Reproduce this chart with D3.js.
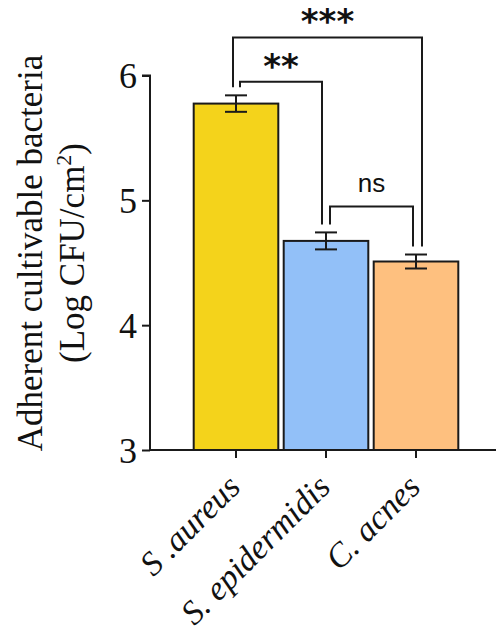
<!DOCTYPE html>
<html><head><meta charset="utf-8">
<script src="https://cdn.jsdelivr.net/npm/d3@7"></script>
<style>html,body{margin:0;padding:0;background:#fff}svg{display:block}</style>
</head><body>
<svg id="chart" width="496" height="635"></svg>
<script>
const categories = ["S .aureus", "S. epidermidis", "C. acnes"];
const means = [5.775, 4.675, 4.51];
const errors = [0.066, 0.068, 0.056];
const colors = ["#F4D31B", "#92C0F8", "#FEC07F"];
const yTicks = [3, 4, 5, 6];
const comparisons = [
  {a: 0, b: 1, label: "**", level: 5.95},
  {a: 0, b: 2, label: "***", level: 6.305},
  {a: 1, b: 2, label: "ns", level: 4.95}
];
// leg offsets (px) from bar centre for each comparison end
const legOffsets = [[4, -4], [-3, 6], [4, -3]];

const svg = d3.select("#chart");
const y = d3.scaleLinear().domain([3, 6]).range([450, 75.5]);
const x = d3.scaleBand().domain(categories).range([191, 461]).paddingInner(0.06).paddingOuter(0.03);
const axisX0 = 150;

// bars
svg.selectAll("rect.bar").data(categories).enter().append("rect")
  .attr("x", d => x(d)).attr("width", x.bandwidth())
  .attr("y", (d, i) => y(means[i])).attr("height", (d, i) => y(3) - y(means[i]))
  .attr("fill", (d, i) => colors[i]).attr("stroke", "#1a1a1a").attr("stroke-width", 2);

// error bars
const cap = 11;
categories.forEach((c, i) => {
  const cx = x(c) + x.bandwidth() / 2;
  const g = svg.append("g").attr("stroke", "#1a1a1a").attr("stroke-width", 2);
  g.append("line").attr("x1", cx).attr("x2", cx).attr("y1", y(means[i] + errors[i])).attr("y2", y(means[i] - errors[i]));
  g.append("line").attr("x1", cx - cap).attr("x2", cx + cap).attr("y1", y(means[i] + errors[i])).attr("y2", y(means[i] + errors[i]));
  g.append("line").attr("x1", cx - cap).attr("x2", cx + cap).attr("y1", y(means[i] - errors[i])).attr("y2", y(means[i] - errors[i]));
});

// y axis
const yAxis = d3.axisLeft(y).tickValues(yTicks).tickSize(8).tickPadding(5).tickFormat(d3.format("d"));
const gy = svg.append("g").attr("transform", `translate(${axisX0},0)`).call(yAxis);
gy.select(".domain").attr("stroke", "#1a1a1a").attr("stroke-width", 2).attr("d", `M-8,${y(6)}H0V${y(3)}`);
gy.selectAll(".tick line").attr("stroke", "#1a1a1a").attr("stroke-width", 2);
gy.selectAll(".tick text").attr("font-family", "Liberation Serif, Times New Roman, serif").attr("font-size", 36).attr("fill", "#111").attr("dy", "0.34em");

// x axis
const xAxis = d3.axisBottom(x).tickSize(8).tickFormat("");
const gx = svg.append("g").attr("transform", `translate(0,${y(3)})`).call(xAxis);
gx.select(".domain").attr("stroke", "#1a1a1a").attr("stroke-width", 2).attr("d", `M${axisX0},0H496`);
gx.selectAll(".tick line").attr("stroke", "#1a1a1a").attr("stroke-width", 2);

// x labels rotated
svg.selectAll("text.xl").data(categories).enter().append("text")
  .attr("class", "xl")
  .attr("transform", d => `translate(${x(d) + x.bandwidth() / 2 + 6},${y(3) + 39}) rotate(-45)`)
  .attr("text-anchor", "end")
  .attr("font-family", "Liberation Serif, Times New Roman, serif")
  .attr("font-style", "italic").attr("font-size", 34).attr("fill", "#111")
  .text(d => d);

// y label
const yl = svg.append("text").attr("transform", "translate(42,253) rotate(-90)")
  .attr("text-anchor", "middle").attr("font-family", "Liberation Serif, Times New Roman, serif")
  .attr("font-size", 35).attr("fill", "#111");
yl.append("tspan").attr("x", 0).attr("dy", 0).text("Adherent cultivable bacteria");
const l2 = yl.append("tspan").attr("x", 0).attr("dy", 42);
l2.append("tspan").text("(Log CFU/cm");
l2.append("tspan").attr("font-size", 22).attr("dy", -13).text("2");
l2.append("tspan").attr("dy", 13).text(")");

// significance brackets
comparisons.forEach((c, k) => {
  const xa = x(categories[c.a]) + x.bandwidth() / 2 + legOffsets[k][0];
  const xb = x(categories[c.b]) + x.bandwidth() / 2 + legOffsets[k][1];
  const yt = y(c.level);
  const ya = y(means[c.a] + errors[c.a]) - 8;
  const yb = y(means[c.b] + errors[c.b]) - 8;
  svg.append("path").attr("d", `M${xa},${ya}V${yt}H${xb}V${yb}`)
    .attr("fill", "none").attr("stroke", "#1a1a1a").attr("stroke-width", 2);
  const isStar = c.label.indexOf("*") >= 0;
  svg.append("text").attr("x", (xa + xb) / 2).attr("y", isStar ? yt - 4 : yt - 15)
    .attr("text-anchor", "middle")
    .attr("font-family", isStar ? "DejaVu Sans" : "Liberation Sans, Arial, sans-serif")
    .attr("font-weight", isStar ? "bold" : "normal")
    .attr("font-size", isStar ? 34 : 26).attr("fill", "#111")
    .text(c.label);
});
</script>
</body></html>
